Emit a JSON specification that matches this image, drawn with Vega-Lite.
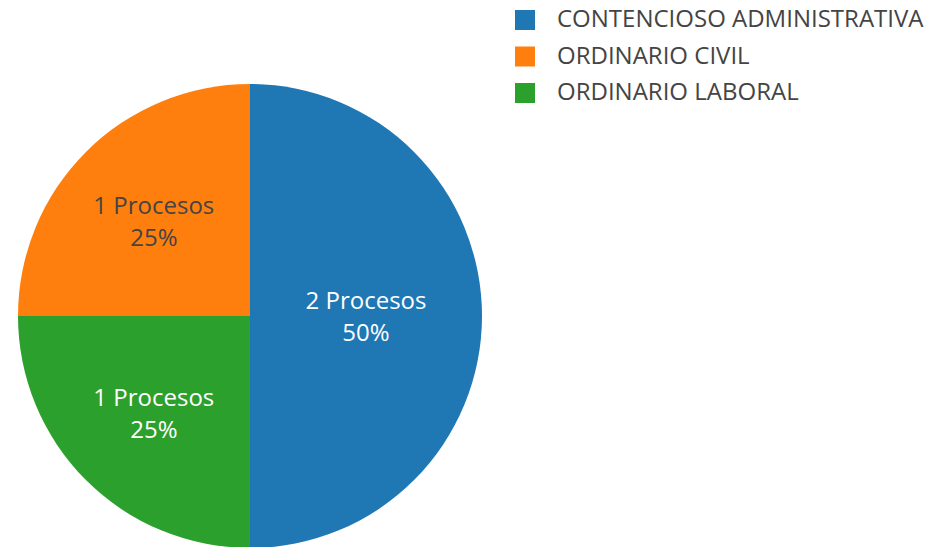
{
  "$schema": "https://vega.github.io/schema/vega-lite/v6.json",
  "width": 464,
  "height": 464,
  "autosize": {"type": "none"},
  "padding": {"left": 18, "top": 84, "right": 466, "bottom": 0},
  "background": "white",
  "config": {"view": {"stroke": null}, "font": "Open Sans"},
  "data": {
    "values": [
      {"tipo": "CONTENCIOSO ADMINISTRATIVA", "procesos": 2, "orden": 1, "etiqueta": "2 Procesos\n50%"},
      {"tipo": "ORDINARIO LABORAL", "procesos": 1, "orden": 2, "etiqueta": "1 Procesos\n25%"},
      {"tipo": "ORDINARIO CIVIL", "procesos": 1, "orden": 3, "etiqueta": "1 Procesos\n25%"}
    ]
  },
  "encoding": {
    "theta": {"field": "procesos", "type": "quantitative", "stack": true},
    "order": {"field": "orden", "type": "quantitative"},
    "color": {
      "field": "tipo",
      "type": "nominal",
      "scale": {
        "domain": ["CONTENCIOSO ADMINISTRATIVA", "ORDINARIO CIVIL", "ORDINARIO LABORAL"],
        "range": ["#1f77b4", "#ff7f0e", "#2ca02c"]
      },
      "legend": {
        "orient": "none",
        "legendX": 495,
        "legendY": -76,
        "title": null,
        "padding": 0,
        "labelFont": "Open Sans",
        "labelFontSize": 24,
        "labelColor": "#444444",
        "labelLimit": 0,
        "labelOffset": 20,
        "symbolType": "square",
        "symbolSize": 400,
        "symbolStrokeWidth": 0,
        "rowPadding": 12.5
      }
    }
  },
  "layer": [
    {"mark": {"type": "arc", "outerRadius": 232}},
    {
      "mark": {"type": "text", "radius": 116, "dy": -14, "font": "Open Sans", "fontSize": 24, "lineBreak": "\n", "lineHeight": 32, "baseline": "middle", "align": "center"},
      "encoding": {
        "text": {"condition": {"test": "datum.procesos == 2", "field": "etiqueta"}, "value": ""},
        "color": {"value": "white"}
      }
    },
    {
      "mark": {"type": "text", "radius": 136, "dy": -13, "font": "Open Sans", "fontSize": 24, "lineBreak": "\n", "lineHeight": 32, "baseline": "middle", "align": "center"},
      "encoding": {
        "text": {"condition": {"test": "datum.procesos == 1", "field": "etiqueta"}, "value": ""},
        "color": {"condition": {"test": "datum.tipo === 'ORDINARIO CIVIL'", "value": "#444444"}, "value": "white"}
      }
    }
  ]
}
